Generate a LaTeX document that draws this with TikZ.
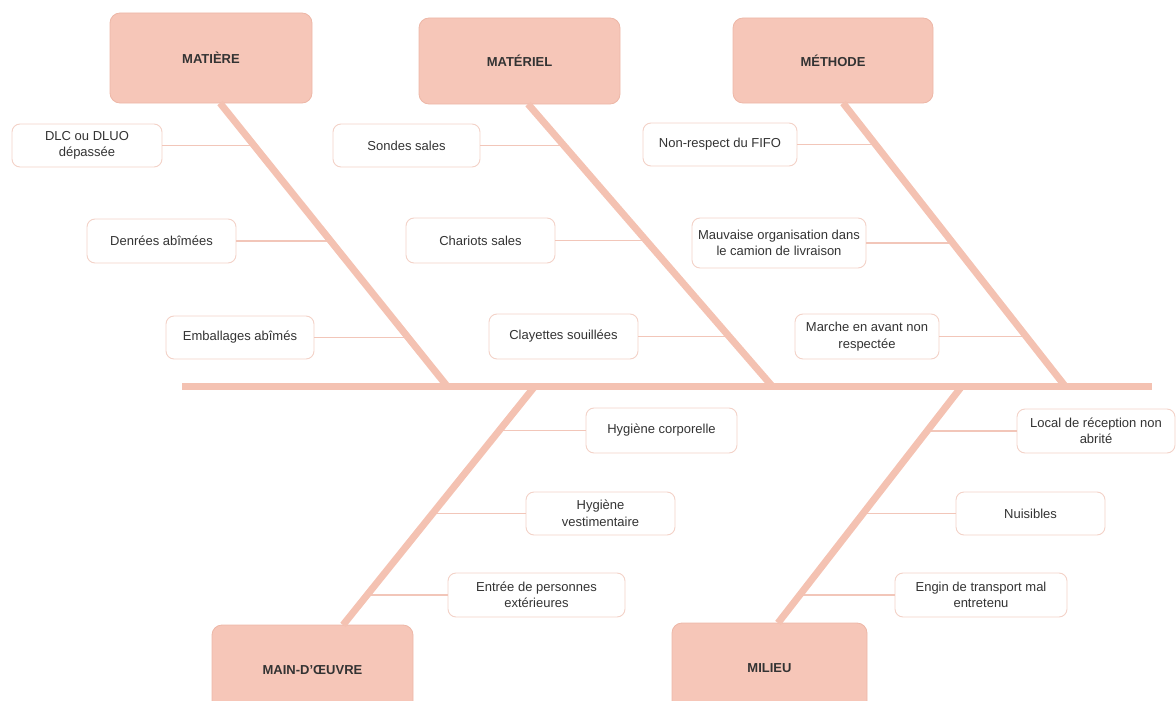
\documentclass[tikz,border=0pt]{standalone}
\usepackage{fontspec}
\setmainfont{Liberation Sans}
\usetikzlibrary{calc}
\definecolor{headfill}{HTML}{F6C6B8}
\definecolor{headdraw}{HTML}{EDB7A7}
\definecolor{bonecol}{HTML}{F4C2B2}
\definecolor{leafdraw}{HTML}{F3D2C8}
\definecolor{linkcol}{HTML}{F2C6B9}
\definecolor{txt}{HTML}{333333}
\begin{document}
\begin{tikzpicture}[x=1pt,y=-1pt,
  head/.style={draw=headdraw,line width=0.8pt,fill=headfill,rounded corners=10pt,
    font=\fontsize{13}{15}\selectfont\bfseries,text=txt,inner sep=0pt},
  leaf/.style={draw=leafdraw,line width=0.9pt,fill=white,rounded corners=8pt,
    font=\fontsize{13}{16.5}\selectfont,text=txt,align=center,inner sep=0pt},
  bone/.style={draw=bonecol,line width=7pt},
  link/.style={draw=linkcol,line width=1.6pt}]
\useasboundingbox (0,0) rectangle (1176,701);
\clip (0,0) rectangle (1176,701);

% heads
\node[head,minimum width=202pt,minimum height=90pt] (mat) at (211,58) {MATIÈRE};
\node[head,minimum width=201pt,minimum height=86pt] (matl) at (519.5,61) {MATÉRIEL};
\node[head,minimum width=200pt,minimum height=85pt] (meth) at (833,60.5) {MÉTHODE};
\node[head,minimum width=201pt,minimum height=90pt] (mo) at (312.5,670) {MAIN-D'ŒUVRE};
\node[head,minimum width=195pt,minimum height=90pt] (mil) at (769.5,668) {MILIEU};

% bone end points
\coordinate (s1) at (182,386);
\coordinate (s2) at (1152,386);
\coordinate (b1t) at (220,103);  \coordinate (b1b) at (447,386);
\coordinate (b2t) at (528,104);  \coordinate (b2b) at (772,386);
\coordinate (b3t) at (843,103);  \coordinate (b3b) at (1065,386);
\coordinate (b4t) at (535,386);  \coordinate (b4b) at (343,625);
\coordinate (b5t) at (962,386);  \coordinate (b5b) at (778,623);

% points on bones
\coordinate (p11) at ($(b1t)!0.148!(b1b)$);
\coordinate (p12) at ($(b1t)!0.488!(b1b)$);
\coordinate (p13) at ($(b1t)!0.827!(b1b)$);
\coordinate (p21) at ($(b2t)!0.145!(b2b)$);
\coordinate (p22) at ($(b2t)!0.489!(b2b)$);
\coordinate (p23) at ($(b2t)!0.826!(b2b)$);
\coordinate (p31) at ($(b3t)!0.148!(b3b)$);
\coordinate (p32) at ($(b3t)!0.498!(b3b)$);
\coordinate (p33) at ($(b3t)!0.823!(b3b)$);
\coordinate (p41) at ($(b4t)!0.192!(b4b)$);
\coordinate (p42) at ($(b4t)!0.540!(b4b)$);
\coordinate (p43) at ($(b4t)!0.883!(b4b)$);
\coordinate (p51) at ($(b5t)!0.198!(b5b)$);
\coordinate (p52) at ($(b5t)!0.544!(b5b)$);
\coordinate (p53) at ($(b5t)!0.890!(b5b)$);

% leaves
\node[leaf,minimum width=150pt,minimum height=43pt] (dlc) at (87,145.5) {DLC ou DLUO\\dépassée};
\node[leaf,minimum width=149pt,minimum height=44pt] (denr) at (161.5,241) {Denrées abîmées};
\node[leaf,minimum width=148pt,minimum height=43pt] (emb) at (240,337.5) {Emballages abîmés};
\node[leaf,minimum width=147pt,minimum height=43pt] (sond) at (406.5,145.5) {Sondes sales};
\node[leaf,minimum width=149pt,minimum height=45pt] (char) at (480.5,240.5) {Chariots sales};
\node[leaf,minimum width=149pt,minimum height=45pt] (clay) at (563.5,336.5) {Clayettes souillées};
\node[leaf,minimum width=154pt,minimum height=43pt] (fifo) at (720,144.5) {Non-respect du FIFO};
\node[leaf,minimum width=174pt,minimum height=50pt] (mauv) at (779,243) {Mauvaise organisation dans\\le camion de livraison};
\node[leaf,minimum width=144pt,minimum height=45pt] (marc) at (867,336.5) {Marche en avant non\\respectée};
\node[leaf,minimum width=151pt,minimum height=45pt] (hcor) at (661.5,430.5) {Hygiène corporelle};
\node[leaf,minimum width=149pt,minimum height=43pt] (hves) at (600.5,513.5) {Hygiène\\vestimentaire};
\node[leaf,minimum width=177pt,minimum height=44pt] (entr) at (536.5,595) {Entrée de personnes\\extérieures};
\node[leaf,minimum width=158pt,minimum height=44pt] (loca) at (1096,431) {Local de réception non\\abrité};
\node[leaf,minimum width=149pt,minimum height=43pt] (nuis) at (1030.5,513.5) {Nuisibles};
\node[leaf,minimum width=172pt,minimum height=44pt] (engi) at (981,595) {Engin de transport mal\\entretenu};

% links
\draw[link] (dlc.east) -- (dlc.east -| p11);
\draw[link] (denr.east) -- (denr.east -| p12);
\draw[link] (emb.east) -- (emb.east -| p13);
\draw[link] (sond.east) -- (sond.east -| p21);
\draw[link] (char.east) -- (char.east -| p22);
\draw[link] (clay.east) -- (clay.east -| p23);
\draw[link] (fifo.east) -- (fifo.east -| p31);
\draw[link] (mauv.east) -- (mauv.east -| p32);
\draw[link] (marc.east) -- (marc.east -| p33);
\draw[link] (hcor.west) -- (hcor.west -| p41);
\draw[link] (hves.west) -- (hves.west -| p42);
\draw[link] (entr.west) -- (entr.west -| p43);
\draw[link] (loca.west) -- (loca.west -| p51);
\draw[link] (nuis.west) -- (nuis.west -| p52);
\draw[link] (engi.west) -- (engi.west -| p53);

% bones
\draw[bone] (s1) -- (s2);
\draw[bone] (b1t) -- (b1b);
\draw[bone] (b2t) -- (b2b);
\draw[bone] (b3t) -- (b3b);
\draw[bone] (b4t) -- (b4b);
\draw[bone] (b5t) -- (b5b);
\end{tikzpicture}
\end{document}
